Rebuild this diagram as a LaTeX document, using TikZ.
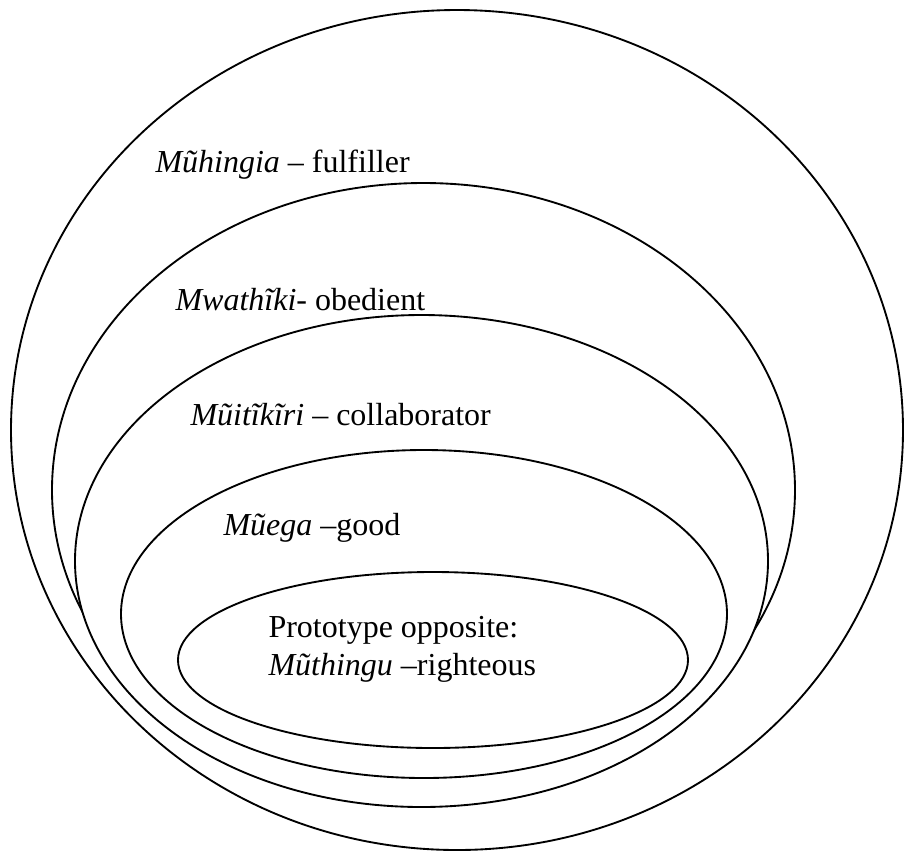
\documentclass[tikz,border=0pt]{standalone}
\usepackage{fontspec}
\setmainfont{Liberation Serif}
\begin{document}
\begin{tikzpicture}[x=0.375pt, y=-0.375pt,
  ring/.style={draw=black, line width=0.7pt, fill=white},
  lbl/.style={anchor=base west, inner sep=0pt, font=\fontsize{12}{14.25}\selectfont}]
\useasboundingbox (0,0) rectangle (905,852);
% nested categories, outermost first; each white fill hides what lies beneath
\draw[ring] (457,430) ellipse [x radius=446, y radius=420];
\draw[ring] (423.5,490) ellipse [x radius=371.5, y radius=307];
\draw[ring] (421.5,561) ellipse [x radius=346.5, y radius=246];
\draw[ring] (424,614) ellipse [x radius=303, y radius=164];
\draw[ring] (433,660) ellipse [x radius=255, y radius=88];
% category labels
\node[lbl] (fulfiller) at (155,172) {\textit{Mũhingia} – fulfiller};
\node[lbl] (obedient) at (175,310) {\textit{Mwathĩki}- obedient};
\node[lbl] (collab) at (190,425) {\textit{Mũitĩkĩri} – collaborator};
\node[lbl] (good) at (223,535) {\textit{Mũega} –good};
\node[lbl] (proto) at (268,637) {Prototype opposite:};
\node[lbl] (righteous) at (268,675) {\textit{Mũthingu} –righteous};
\end{tikzpicture}
\end{document}
